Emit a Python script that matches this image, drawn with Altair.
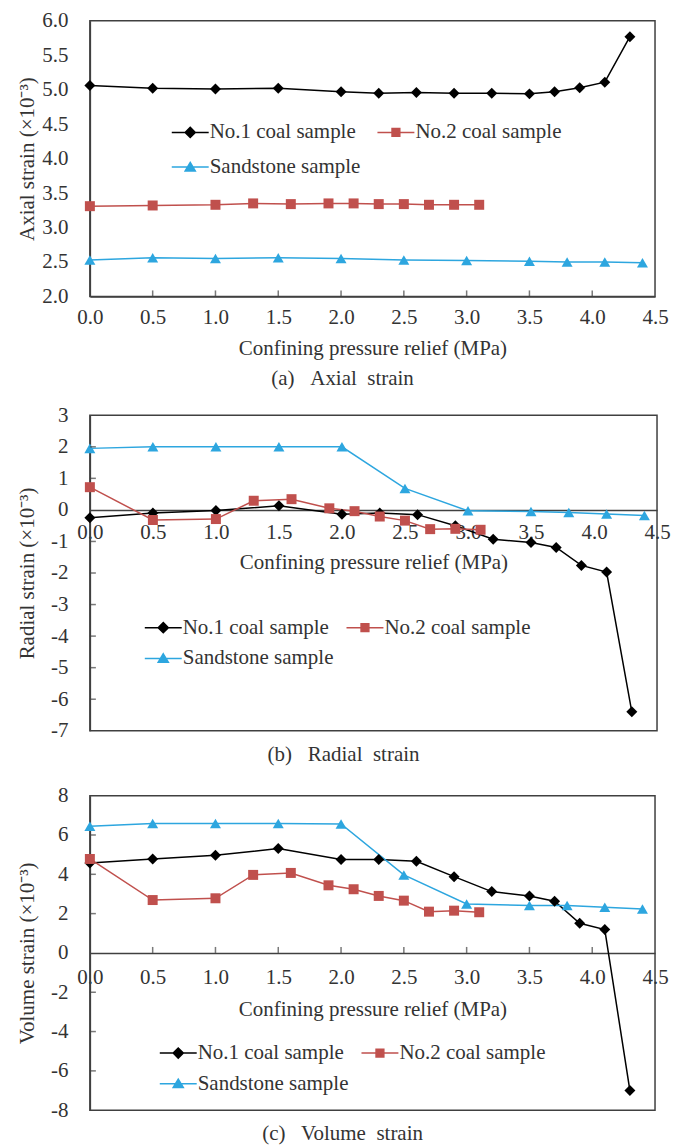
import altair as alt
import pandas as pd

# ---------------- data ----------------
series = ["No.1 coal sample", "No.2 coal sample", "Sandstone sample"]
colors = ["#000000", "#C0504D", "#2DA6DF"]

x_coal1 = [0.0, 0.5, 1.0, 1.5, 2.0, 2.3, 2.6, 2.9, 3.2, 3.5, 3.7, 3.9, 4.1, 4.3]
x_coal2 = [0.0, 0.5, 1.0, 1.3, 1.6, 1.9, 2.1, 2.3, 2.5, 2.7, 2.9, 3.1]
x_sand = [0.0, 0.5, 1.0, 1.5, 2.0, 2.5, 3.0, 3.5, 3.8, 4.1, 4.4]

axial_coal1 = [5.06, 5.02, 5.01, 5.02, 4.97, 4.95, 4.96, 4.95, 4.95, 4.94, 4.97, 5.03, 5.11, 5.77]
axial_coal2 = [3.31, 3.32, 3.33, 3.35, 3.34, 3.35, 3.35, 3.34, 3.34, 3.33, 3.33, 3.33]
axial_sand = [2.53, 2.56, 2.55, 2.56, 2.55, 2.53, 2.52, 2.51, 2.50, 2.50, 2.49]

radial_coal1 = [-0.25, -0.10, -0.02, 0.13, -0.14, -0.10, -0.15, -0.50, -0.93, -1.03, -1.19, -1.76, -1.97, -6.40]
radial_coal2 = [0.72, -0.32, -0.29, 0.29, 0.34, 0.05, -0.04, -0.21, -0.34, -0.61, -0.60, -0.63]
radial_sand = [1.95, 2.00, 2.00, 2.00, 2.00, 0.68, -0.03, -0.05, -0.08, -0.13, -0.18]

volume_coal1 = [4.58, 4.78, 4.97, 5.31, 4.75, 4.75, 4.66, 3.88, 3.12, 2.90, 2.63, 1.51, 1.19, -7.00]
volume_coal2 = [4.78, 2.69, 2.78, 3.97, 4.07, 3.44, 3.24, 2.90, 2.66, 2.10, 2.15, 2.07]
volume_sand = [6.45, 6.59, 6.59, 6.59, 6.56, 3.97, 2.49, 2.41, 2.41, 2.32, 2.24]

x_ticks = [0.0, 0.5, 1.0, 1.5, 2.0, 2.5, 3.0, 3.5, 4.0, 4.5]
x_inner_ticks = [0.5, 1.0, 1.5, 2.0, 2.5, 3.0, 3.5, 4.0]
y_ticks_a = [2.0, 2.5, 3.0, 3.5, 4.0, 4.5, 5.0, 5.5, 6.0]
y_ticks_b = [3, 2, 1, 0, -1, -2, -3, -4, -5, -6, -7]
y_ticks_c = [8, 6, 4, 2, 0, -2, -4, -6, -8]

FONT = "Liberation Serif"
TXT = "#333333"
AXC = "#404040"
XTITLE = "Confining pressure relief (MPa)"

# legend symbols: a short line with the marker on it
legend_paths = [
    "M-2,0L2,0M0,-0.55L0.55,0L0,0.55L-0.55,0Z",
    "M-2,0L2,0M-0.42,-0.42L0.42,-0.42L0.42,0.42L-0.42,0.42Z",
    "M-2,0L2,0M0,-0.5L0.55,0.42L-0.55,0.42Z",
]
plot_shapes = ["diamond", "square", "triangle-up"]
plot_sizes = [121, 100, 121]


def make_df(ys):
    xs = [x_coal1, x_coal2, x_sand]
    rows = []
    for s, xv, yv in zip(series, xs, ys):
        for a, b in zip(xv, yv):
            rows.append({"series": s, "x": a, "y": b})
    return pd.DataFrame(rows)


def panel(df, ydom, yvals, yfmt, ytitle, caption, height, width, xoffset,
          xlabel_pad, xtitle_pad, ytitle_x, leg_x, leg_y, row_pad, col_pad, cap_offset,
          x_tick_y=None, y_ticks_in=None):
    label_expr = "replace(datum.label, '\u2212', '-')"
    xscale = alt.Scale(domain=[0, 4.5], nice=False, zero=False)
    yscale = alt.Scale(domain=ydom, nice=False, zero=False)
    xaxis = alt.Axis(values=x_ticks, format=".1f", title=XTITLE, offset=xoffset,
                     labelPadding=xlabel_pad, titlePadding=xtitle_pad, tickSize=0,
                     labelFlush=False, labelOverlap=False, labelFont=FONT, titleFont=FONT)
    yaxis = alt.Axis(values=yvals, format=yfmt, labelExpr=label_expr, title=ytitle,
                     titleX=ytitle_x, titleBaseline="middle", labelPadding=22,
                     tickSize=0, labelFlush=False, labelOverlap=False,
                     labelFont=FONT, titleFont=FONT)
    xenc = alt.X("x:Q", scale=xscale, axis=xaxis)
    yenc = alt.Y("y:Q", scale=yscale, axis=yaxis)
    base = alt.Chart(df)
    layers = []
    leg = alt.Legend(title=None, orient="none", legendX=leg_x, legendY=leg_y, columns=2,
                     direction="horizontal",
                     labelFont=FONT, labelFontSize=21, labelColor=TXT, symbolSize=342,
                     symbolStrokeWidth=1.5, symbolOpacity=1, labelOffset=9,
                     rowPadding=row_pad, columnPadding=col_pad, padding=0)
    # invisible layer that only carries the legend
    layers.append(base.mark_point(filled=True, size=0, strokeWidth=0).encode(
        x=xenc, y=yenc,
        fill=alt.Fill("series:N", scale=alt.Scale(domain=series, range=colors), legend=leg),
        stroke=alt.Stroke("series:N", scale=alt.Scale(domain=series, range=colors), legend=leg),
        shape=alt.Shape("series:N", scale=alt.Scale(domain=series, range=legend_paths), legend=leg)))
    layers.append(base.mark_line(strokeWidth=1.5).encode(
        x=xenc, y=yenc,
        color=alt.Color("series:N", scale=alt.Scale(domain=series, range=colors), legend=None)))
    for s, c, shp, sz in zip(series, colors, plot_shapes, plot_sizes):
        layers.append(base.transform_filter(alt.datum.series == s).mark_point(
            shape=shp, filled=True, size=sz, color=c, opacity=1).encode(x=xenc, y=yenc))
    if x_tick_y is not None:
        layers.append(alt.Chart(pd.DataFrame({"x": x_inner_ticks})).mark_tick(
            orient="vertical", size=6, thickness=1.5, color=AXC, yOffset=-3).encode(
            x=xenc, y=alt.YDatum(x_tick_y, scale=yscale, axis=yaxis)))
    if y_ticks_in is not None:
        layers.append(alt.Chart(pd.DataFrame({"y": y_ticks_in})).mark_tick(
            orient="horizontal", size=6, thickness=1.5, color=AXC, xOffset=3).encode(
            x=alt.XDatum(0, scale=xscale, axis=xaxis), y=yenc))
    return alt.layer(*layers).properties(
        width=width, height=height,
        title=alt.TitleParams(text=caption, orient="bottom", frame="bounds", anchor="middle",
                              font=FONT, fontSize=21, fontWeight="normal", color=TXT,
                              offset=cap_offset))


nb = "\u00a0"
pa = panel(make_df([axial_coal1, axial_coal2, axial_sand]), [2, 6], y_ticks_a, ".1f",
           "Axial strain (\u00d710\u207b\u00b3)", f"(a){nb*3}Axial{nb*2}strain",
           276, 566, 0, 10, 10, -62, 90, 101, 13, 13, 10, x_tick_y=2.0)
pb = panel(make_df([radial_coal1, radial_coal2, radial_sand]), [-7, 3], y_ticks_b, "d",
           "Radial strain (\u00d710\u207b\u00b3)", f"(b){nb*3}Radial{nb*2}strain",
           316, 568, -221, 11, 9, -62, 63, 202, 9, 9, 3, y_ticks_in=[2, 1, -1, -2, -3, -4, -5, -6])
pc = panel(make_df([volume_coal1, volume_coal2, volume_sand]), [-8, 8], y_ticks_c, "d",
           "Volume strain (\u00d710\u207b\u00b3)", f"(c){nb*3}Volume{nb*2}strain",
           315, 566, -157.5, 14, 11, -62, 78, 247, 9, 9, 3, x_tick_y=0,
           y_ticks_in=[6, 4, 2, -2, -4, -6])

res_s = dict(color="independent", fill="independent", stroke="independent", shape="independent")
top = alt.vconcat(pa, pb, spacing=13).resolve_scale(**res_s).resolve_legend(**res_s)
chart = alt.vconcat(top, pc, spacing=18).resolve_scale(**res_s).resolve_legend(**res_s).properties(
    padding={"left": 8, "top": 0, "right": 0, "bottom": 0}
).configure_view(stroke=AXC, strokeWidth=1.5).configure_axis(
    labelFont=FONT, labelFontSize=21, labelColor=TXT, titleFont=FONT, titleFontSize=21,
    titleFontWeight="normal", titleColor=TXT, grid=False, domainColor=AXC, domainWidth=1.5
).configure_legend(labelFont=FONT, labelFontSize=21, labelColor=TXT)

chart.save("out.html", embed_options={"renderer": "svg", "actions": False})
